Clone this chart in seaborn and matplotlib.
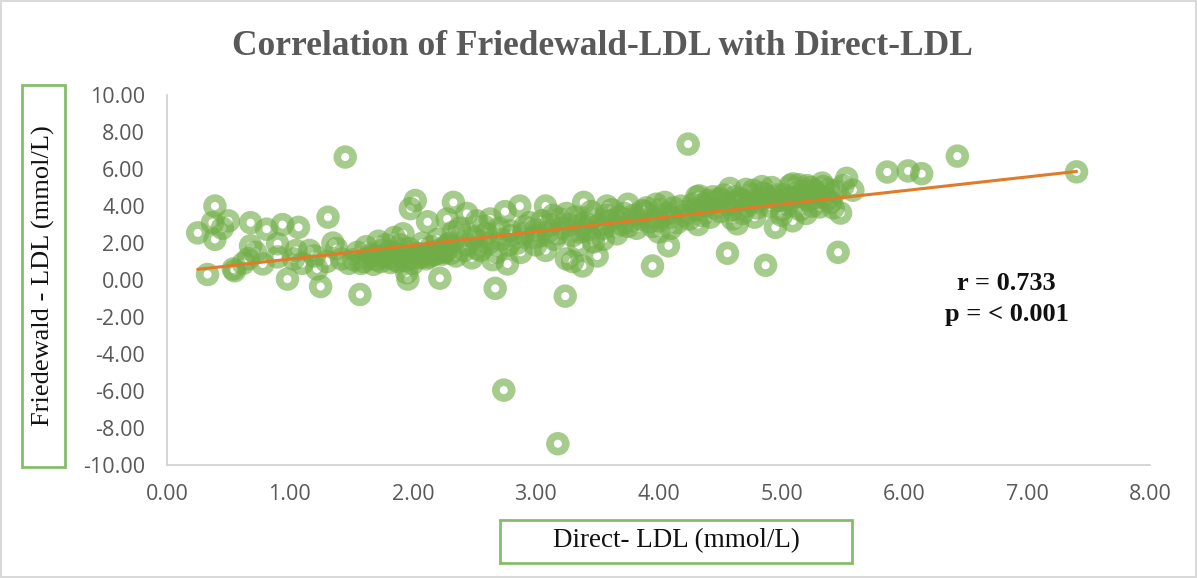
import numpy as np
import matplotlib
matplotlib.use("Agg")
import matplotlib.pyplot as plt
from matplotlib.patches import Rectangle
import seaborn as sns

# Direct-LDL (x) and Friedewald-LDL (y), mmol/L
direct_ldl = [
    # x < 1.5
    0.25, 0.39, 0.37, 0.50, 0.39, 0.68, 0.81, 0.94, 1.07, 1.31, 0.33, 0.54, 0.68, 0.66, 0.78, 0.90, 0.90,
    1.03, 0.98, 1.16, 1.22, 1.25, 1.35, 1.42, 1.45, 0.55, 0.62, 0.72, 1.10, 1.30, 1.38, 0.45, 1.05, 1.20, 1.48,
    # 1.5 - 2.1
    1.57, 1.55, 1.67, 1.84, 1.95, 1.92, 1.98, 2.02, 1.60, 1.70, 1.75, 1.80, 1.90, 1.85, 2.06, 2.05, 1.62,
    1.72, 1.78, 1.88, 2.00, 2.08, 1.96,
    1.52, 1.58, 1.64, 1.68, 1.74, 1.77, 1.82, 1.86, 1.91, 1.94, 1.99, 2.03, 2.09, 2.11, 2.14, 2.17,
    2.21, 2.24, 2.27, 2.31, 1.66, 1.81, 1.97, 2.13, 2.26,
    # 2.1 - 2.8
    2.22, 2.12, 2.28, 2.33, 2.44, 2.33, 2.52, 2.52, 2.63, 2.75, 2.67, 2.77, 2.74, 2.79, 2.15, 2.20, 2.25,
    2.30, 2.35, 2.40, 2.45, 2.50, 2.55, 2.60, 2.62, 2.68, 2.70, 2.72, 2.78, 2.18, 2.38, 2.48, 2.58, 2.65,
    2.80, 2.42, 2.28, 2.56,
    # 2.8 - 3.6
    2.87, 2.91, 3.01, 3.08, 3.24, 3.18, 3.25, 3.38, 3.36, 3.47, 3.50, 3.39, 3.58, 2.85, 2.90, 2.95, 3.00,
    3.05, 3.10, 3.12, 3.15, 3.20, 3.22, 3.28, 3.30, 3.32, 3.35, 3.40, 3.42, 3.45, 3.48, 3.52, 3.55, 3.58,
    3.30, 3.00, 2.98, 3.18, 3.08, 3.25, 3.45, 3.55, 2.88, 3.14, 3.36,
    # 3.6 - 4.4
    3.89, 3.75, 3.95, 4.08, 3.87, 4.07, 3.93, 4.20, 4.31, 4.24, 3.60, 3.65, 3.68, 3.70, 3.72, 3.78, 3.80,
    3.82, 3.85, 3.90, 3.95, 3.98, 4.00, 4.02, 4.05, 4.10, 4.12, 4.15, 4.18, 4.22, 4.25, 4.28, 4.30, 4.35,
    4.38, 3.62, 3.75, 3.95, 4.10, 4.32, 3.66, 4.00, 4.40,
    # 4.4 - 5.6
    4.42, 4.50, 4.56, 4.64, 4.69, 4.87, 4.93, 4.95, 5.09, 5.09, 5.21, 5.31, 5.33, 5.46, 5.48, 5.53, 5.58,
    4.45, 4.50, 4.55, 4.60, 4.62, 4.68, 4.72, 4.75, 4.80, 4.82, 4.85, 4.90, 4.98, 5.00, 5.02, 5.05, 5.12,
    5.15, 5.18, 5.22, 5.25, 5.28, 5.35, 5.38, 5.40, 5.42, 4.60, 4.78, 5.00, 5.20,
    4.44, 4.48, 4.53, 4.58, 4.66, 4.71, 4.74, 4.77, 4.84, 4.88, 4.92, 4.96, 5.04, 5.07, 5.11, 5.14,
    5.17, 5.24, 5.27, 5.30, 5.34, 5.37, 5.44, 5.50, 4.58, 4.86, 5.06, 5.26, 4.36, 4.33,
    # right tail
    5.86, 6.03, 6.14, 6.43, 7.40,
]
friedewald_ldl = [
    2.55, 4.00, 3.10, 3.20, 2.20, 3.10, 2.75, 3.00, 2.85, 3.40, 0.30, 0.60, 1.85, 1.15, 0.87, 1.25, 1.96,
    1.14, 0.05, 1.60, 0.60, -0.35, 2.00, 1.14, 6.65, 0.50, 0.90, 1.50, 0.90, 1.00, 1.70, 2.80, 1.60, 1.30, 0.90,
    -0.78, 1.50, 1.30, 1.50, 0.40, 2.50, 3.86, 4.30, 1.00, 1.10, 1.60, 1.20, 1.90, 2.30, 1.40, 1.20, 1.80,
    2.10, 1.90, 1.00, 0.90, 2.00, 0.05,
    1.10, 0.90, 1.20, 0.85, 1.00, 1.30, 0.95, 1.10, 1.35, 1.05, 1.20, 1.45, 1.30, 1.15, 1.50, 1.35,
    1.60, 1.40, 1.55, 1.45, 1.40, 1.55, 1.70, 1.25, 1.75,
    0.10, 3.15, 3.30, 4.20, 3.60, 2.60, 3.20, 1.70, 3.30, 3.70, -0.45, 0.87, -5.95, 2.66, 1.80, 2.20, 1.50,
    2.00, 1.30, 2.40, 1.90, 2.30, 1.60, 2.50, 2.00, 1.50, 2.80, 2.20, 1.90, 1.40, 2.80, 1.20, 2.90, 1.10,
    2.40, 1.60, 1.90, 2.10,
    4.00, 2.88, 2.34, 4.00, -0.87, -8.85, 1.14, 0.76, 2.60, 2.06, 1.30, 4.20, 4.00, 2.00, 2.50, 3.10, 2.70,
    3.20, 2.60, 3.00, 2.20, 3.30, 2.80, 3.00, 2.40, 3.40, 1.90, 3.10, 2.70, 3.30, 2.50, 3.00, 2.80, 3.50,
    1.00, 1.90, 2.30, 2.50, 1.60, 3.60, 3.70, 2.20, 1.50, 3.50, 3.00,
    3.70, 2.90, 0.76, 1.85, 3.75, 3.60, 3.15, 3.50, 4.50, 7.35, 3.20, 2.90, 3.40, 3.00, 3.60, 3.20, 3.50,
    2.80, 3.30, 3.90, 3.40, 4.10, 3.20, 3.80, 4.20, 3.40, 3.90, 3.10, 4.00, 3.70, 3.30, 4.10, 3.80, 3.50,
    4.00, 3.80, 4.10, 2.90, 2.80, 3.00, 2.50, 2.60, 4.30,
    3.40, 4.40, 1.45, 3.04, 4.30, 0.80, 4.50, 2.85, 3.20, 5.20, 5.10, 3.95, 5.24, 1.50, 3.62, 5.50, 4.86,
    3.90, 3.70, 4.10, 3.80, 4.50, 3.60, 4.00, 4.60, 3.90, 4.30, 4.70, 4.00, 4.30, 3.80, 4.60, 4.10, 4.50,
    3.80, 4.80, 4.30, 4.00, 4.70, 4.50, 4.90, 4.20, 3.90, 3.30, 3.40, 3.50, 3.60,
    4.50, 4.30, 4.60, 4.95, 4.40, 4.90, 4.25, 4.85, 5.05, 4.45, 5.00, 4.60, 4.35, 5.10, 4.70, 5.15,
    4.55, 5.00, 4.45, 4.75, 5.05, 4.35, 4.80, 5.10, 4.20, 4.65, 4.40, 4.85, 4.10, 4.55,
    5.84, 5.90, 5.75, 6.70, 5.85,
]

x_ticks = [0, 1, 2, 3, 4, 5, 6, 7, 8]
y_ticks = [-10, -8, -6, -4, -2, 0, 2, 4, 6, 8, 10]

green = "#70ad47"
orange = "#e07b2a"
gray_text = "#595959"
box_green = "#86bd6c"

sns.set_style("white")
plt.rcParams["font.family"] = ["Open Sans", "DejaVu Sans"]

fig = plt.figure(figsize=(11.97, 5.78), dpi=100)
fig.patch.set_edgecolor("#d9d9d9")
fig.patch.set_linewidth(1.5)
ax = fig.add_axes([0.1395, 0.1955, 0.8215, 0.640])

sns.scatterplot(x=direct_ldl, y=friedewald_ldl, ax=ax, s=130, marker="o",
                facecolors="none", edgecolor=green, linewidth=5.5, alpha=0.62, zorder=2)
sns.regplot(x=np.array(direct_ldl), y=np.array(friedewald_ldl), ax=ax, scatter=False, ci=None,
            line_kws=dict(color=orange, lw=2.2, zorder=3))

ax.set_xlim(0, 8)
ax.set_ylim(-10, 10)
ax.set_xticks(x_ticks)
ax.set_yticks(y_ticks)
ax.set_xticklabels([f"{v:.2f}" for v in x_ticks])
ax.set_yticklabels([f"{v:.2f}" for v in y_ticks])
ax.tick_params(length=0, labelsize=15.5, labelcolor=gray_text)
ax.tick_params(axis="y", pad=16)
ax.tick_params(axis="x", pad=14)
ax.set_xlabel("")
ax.set_ylabel("")
for side in ["top", "right"]:
    ax.spines[side].set_visible(False)
for side in ["left", "bottom"]:
    ax.spines[side].set_color("#d0d0d0")
    ax.spines[side].set_linewidth(1.2)

serif = ["Liberation Serif", "DejaVu Serif"]
fig.text(0.503, 0.92, "Correlation of Friedewald-LDL with Direct-LDL", ha="center", va="center",
         fontsize=25.5, fontweight="bold", color=gray_text, family=serif)

# boxed axis titles
fig.add_artist(Rectangle((0.0184, 0.192), 0.0359, 0.661, transform=fig.transFigure,
                         fill=False, edgecolor=box_green, lw=2))
fig.text(0.036, 0.5225, "Friedewald - LDL (mmol/L)", rotation=90, ha="center", va="center",
         fontsize=19, color="#111111", family=serif)
fig.add_artist(Rectangle((0.4177, 0.026), 0.2941, 0.0743, transform=fig.transFigure,
                         fill=False, edgecolor=box_green, lw=2))
fig.text(0.5647, 0.064, "Direct- LDL (mmol/L)", ha="center", va="center",
         fontsize=19.5, color="#111111", family=serif)

ax.text(6.83, -0.2, "r = 0.733", ha="center", va="center", fontsize=19, fontweight="bold",
        color="#111111", family=serif)
ax.text(6.83, -1.85, "p = < 0.001", ha="center", va="center", fontsize=19, fontweight="bold",
        color="#111111", family=serif)

fig.savefig("out.png", dpi=100)
